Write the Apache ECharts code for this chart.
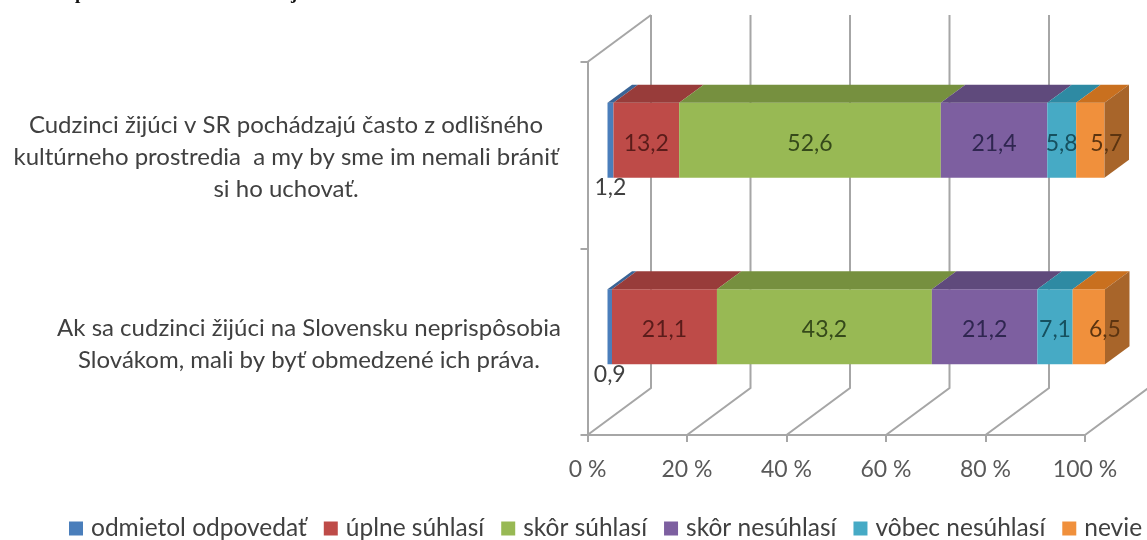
<!DOCTYPE html>
<html>
<head>
<meta charset="utf-8">
<title>Cudzinci na Slovensku</title>
<script src="https://cdn.jsdelivr.net/npm/echarts@6/dist/echarts.min.js"></script>
<style>
  html, body { margin: 0; padding: 0; background: #fff; }
  #chart { width: 1147px; height: 540px; }
</style>
</head>
<body>
<div id="chart"></div>
<script>
// data
var categories = [
  'Cudzinci žijúci v SR pochádzajú často z odlišného\nkultúrneho prostredia  a my by sme im nemali brániť\nsi ho uchovať.',
  'Ak sa cudzinci žijúci na Slovensku neprispôsobia\nSlovákom, mali by byť obmedzené ich práva.'
];
var seriesNames = ['odmietol odpovedať', 'úplne súhlasí', 'skôr súhlasí', 'skôr nesúhlasí', 'vôbec nesúhlasí', 'nevie'];
var odmietol = [1.2, 0.9];
var uplneSuhlasi = [13.2, 21.1];
var skorSuhlasi = [52.6, 43.2];
var skorNesuhlasi = [21.4, 21.2];
var vobecNesuhlasi = [5.8, 7.1];
var nevie = [5.7, 6.5];
var xTicks = [0, 20, 40, 60, 80, 100];

var seriesValues = [odmietol, uplneSuhlasi, skorSuhlasi, skorNesuhlasi, vobecNesuhlasi, nevie];
var frontColors = ['#4a7ebb', '#be4b48', '#98b954', '#7d5fa0', '#46aac5', '#f0903c'];
var topColors = ['#3a6496', '#983c3a', '#76903f', '#5f4a7c', '#2e8aa3', '#c9701f'];
var labelColors = ['#404040', '#5a1c1a', '#35491a', '#2f2650', '#16505f', '#5c3410'];
var sideColor = '#a8652a';

// pseudo 3D offsets (pixels)
var wallDx = 63.5, wallDy = -47;   // front plane -> back wall
var barDx = 20, barDy = -15;       // front plane -> front of bar
var depthDx = 24.5, depthDy = -18; // bar depth
var barH = 75;
var lastLabelDx = 16;              // excel pushes the last label over the side face

var axisGray = '#a6a6a6';
var fontName = 'Lato';

function poly(points, color) {
  return { type: 'polygon', shape: { points: points }, style: { fill: color } };
}

// back wall and floor lines
function renderWall(params, api) {
  var v = api.value(0);
  var bottom = api.coord([v, 1]);
  var size = api.size([0, 1]);
  var yb = bottom[1] + size[1] / 2;
  var yt = yb - size[1] * categories.length;
  var x = bottom[0];
  var lineStyle = { stroke: axisGray, lineWidth: 2, fill: 'none' };
  var children = [{
    type: 'polyline',
    shape: { points: [[x, yb], [x + wallDx, yb + wallDy], [x + wallDx, yt + wallDy]] },
    style: lineStyle
  }];
  if (v === 0) {
    children.push({
      type: 'line',
      shape: { x1: x, y1: yt, x2: x + wallDx, y2: yt + wallDy },
      style: lineStyle
    });
  }
  return { type: 'group', children: children };
}

// one stacked segment: front face, top face, and the side on the last series
function renderSegment(params, api) {
  var i = params.seriesIndex - 1;
  var start = api.value(0), end = api.value(1), cat = api.value(2), val = api.value(3);
  var a = api.coord([start, cat]);
  var b = api.coord([end, cat]);
  var xl = a[0] + barDx, xr = b[0] + barDx;
  var yc = a[1] + barDy;
  var yt = yc - barH / 2, yb = yc + barH / 2;
  var isLast = i === seriesValues.length - 1;
  var children = [
    poly([[xl, yt], [xr, yt], [xr, yb], [xl, yb]], frontColors[i]),
    poly([[xl, yt], [xr, yt], [xr + depthDx, yt + depthDy], [xl + depthDx, yt + depthDy]], topColors[i])
  ];
  if (isLast) {
    children.push(poly([[xr, yt], [xr + depthDx, yt + depthDy], [xr + depthDx, yb + depthDy], [xr, yb]], sideColor));
  }
  var small = val < 2;
  children.push({
    type: 'text',
    x: (xl + xr) / 2 + (isLast ? lastLabelDx : 0),
    y: small ? yb + 10 : yc + 3,
    style: {
      text: String(val).replace('.', ','),
      fill: labelColors[i],
      font: '23px ' + fontName,
      align: 'center',
      verticalAlign: 'middle'
    }
  });
  return { type: 'group', children: children };
}

// stacked series are built from the arrays
var segmentSeries = seriesNames.map(function (name, s) {
  var rows = categories.map(function (c, k) {
    var start = 0;
    for (var j = 0; j < s; j++) start += seriesValues[j][k];
    return [start, start + seriesValues[s][k], k, seriesValues[s][k]];
  });
  return {
    type: 'custom',
    name: name,
    renderItem: renderSegment,
    encode: { x: [0, 1], y: 2 },
    itemStyle: { color: frontColors[s] },
    clip: false,
    z: 3,
    data: rows
  };
});

var chart = echarts.init(document.getElementById('chart'));
chart.setOption({
  backgroundColor: '#fff',
  animation: false,
  textStyle: { fontFamily: fontName },
  legend: {
    left: 64,
    top: 511,
    width: 1082,
    icon: 'rect',
    itemWidth: 14,
    itemHeight: 14,
    itemGap: 17,
    data: seriesNames,
    textStyle: { fontSize: 24.5, color: '#404040', fontFamily: fontName, padding: [0, 0, 0, 3] }
  },
  grid: { left: 587.5, right: 62, top: 62, bottom: 105 },
  xAxis: {
    type: 'value',
    min: 0,
    max: 100,
    interval: 20,
    axisLine: { show: true, lineStyle: { color: axisGray, width: 2 } },
    axisTick: { show: true, length: 7, lineStyle: { color: axisGray, width: 2 } },
    axisLabel: { formatter: '{value} %', fontSize: 23, color: '#595959', margin: 23, fontFamily: fontName },
    splitLine: { show: false }
  },
  yAxis: {
    type: 'category',
    inverse: true,
    data: categories,
    axisLine: { show: true, lineStyle: { color: axisGray, width: 2 } },
    axisTick: { show: true, length: 7, lineStyle: { color: axisGray, width: 2 } },
    axisLabel: {
      margin: 289.5,
      align: 'center',
      padding: [5, 0, 0, 0],
      formatter: function (value, idx) {
        var key = idx === 0 ? 'one' : 'two';
        return value.split('\n').map(function (l) { return '{' + key + '|' + l + '}'; }).join('\n');
      },
      rich: {
        one: { fontSize: 24, color: '#404040', lineHeight: 32, fontFamily: fontName, padding: [0, 24, 0, 0] },
        two: { fontSize: 24, color: '#404040', lineHeight: 32, fontFamily: fontName, padding: [0, 0, 0, 22] }
      }
    }
  },
  graphic: [
    // only the descenders of the cut-off heading line are left in the picture
    { type: 'text', left: 75, top: -15, style: { text: 'p', font: 'bold 19px "Liberation Serif"', fill: '#111' } },
    { type: 'text', left: 291, top: -15, style: { text: 'j', font: 'bold 19px "Liberation Serif"', fill: '#111' } }
  ],
  series: [{
    type: 'custom',
    name: 'wall',
    renderItem: renderWall,
    encode: { x: 0 },
    clip: false,
    silent: true,
    z: 1,
    data: xTicks.map(function (t) { return [t]; })
  }].concat(segmentSeries)
});
</script>
</body>
</html>
